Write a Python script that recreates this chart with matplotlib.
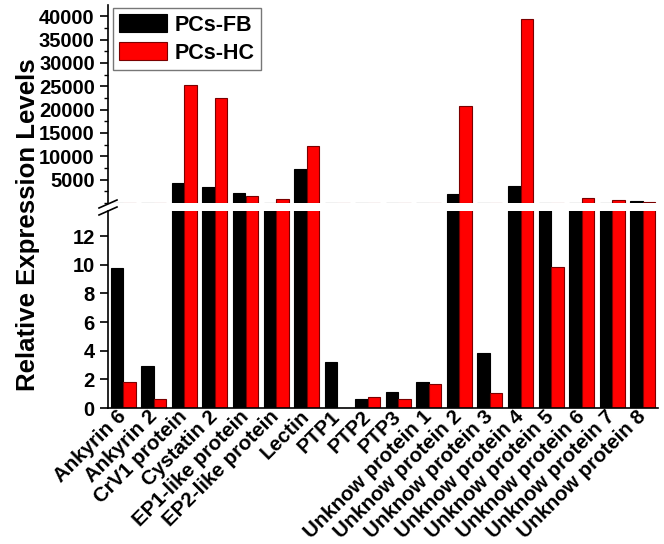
import matplotlib
matplotlib.use("Agg")
import matplotlib.pyplot as plt
from matplotlib.lines import Line2D
from matplotlib.ticker import MultipleLocator
import numpy as np

plt.rcParams['font.family'] = ['Liberation Sans', 'DejaVu Sans']
plt.rcParams['font.weight'] = 'bold'

# data
genes = ["Ankyrin 6", "Ankyrin 2", "CrV1 protein", "Cystatin 2", "EP1-like protein",
         "EP2-like protein", "Lectin", "PTP1", "PTP2", "PTP3",
         "Unknow protein 1", "Unknow protein 2", "Unknow protein 3", "Unknow protein 4",
         "Unknow protein 5", "Unknow protein 6", "Unknow protein 7", "Unknow protein 8"]
fb = [9.75, 2.95, 4300, 3450, 2150, 90, 7200, 3.2, 0.63, 1.14,
      1.8, 1900, 3.85, 3550, 80, 80, 80, 420]
hc = [1.8, 0.6, 25200, 22500, 1550, 820, 12100, 0.02, 0.75, 0.6,
      1.68, 20700, 1.02, 39400, 9.85, 1040, 540, 300]

W, H = 664, 544
fig = plt.figure(figsize=(W / 100, H / 100), dpi=100)

def px_axes(x0, x1, y_top, y_bot):
    return fig.add_axes([x0 / W, 1 - y_bot / H, (x1 - x0) / W, (y_bot - y_top) / H])

ax_top = px_axes(108, 658, 5, 203)
ax_bot = px_axes(108, 658, 211, 408)

x = np.arange(len(genes))
bw = 0.41
for ax in (ax_top, ax_bot):
    ax.bar(x - bw / 2, fb, bw, color="black", edgecolor="black", linewidth=0.8, label="PCs-FB")
    ax.bar(x + bw / 2, hc, bw, color="#ff0000", edgecolor="#7a0000", linewidth=0.8, label="PCs-HC")
    ax.set_xlim(-0.5, 17.5)
    ax.spines['top'].set_visible(False)
    ax.spines['right'].set_visible(False)
    ax.spines['left'].set_linewidth(1.2)
    ax.tick_params(axis='y', direction='out', length=6, width=1.2, labelsize=14.5)

ax_top.set_ylim(0, 42400)
ax_top.set_yticks(range(5000, 40001, 5000))
ax_top.yaxis.set_minor_locator(MultipleLocator(2500))
ax_top.tick_params(axis='y', which='minor', length=3, width=1)
ax_top.spines['bottom'].set_visible(False)
ax_top.set_xticks([])

ax_bot.set_ylim(0, 13.75)
ax_bot.set_yticks(range(0, 13, 2))
ax_bot.spines['bottom'].set_linewidth(1.2)
ax_bot.set_xticks(x)
ax_bot.set_xticklabels(genes, rotation=45, ha='right', va='center',
                       rotation_mode='anchor', fontsize=14.8, fontweight='bold')
ax_bot.tick_params(axis='x', length=0, pad=4)

for lbl in ax_top.get_yticklabels() + ax_bot.get_yticklabels():
    lbl.set_fontweight('bold')

# axis break marks
for y0 in (208, 215):
    fig.add_artist(Line2D([99 / W, 117 / W], [1 - y0 / H, 1 - (y0 - 8) / H],
                          color="black", linewidth=1.2))

leg = ax_top.legend(loc='upper left', bbox_to_anchor=(113 / W, 1 - 8 / H),
                    bbox_transform=fig.transFigure, fontsize=15.5, frameon=True,
                    fancybox=False, edgecolor="#555555", handlelength=2.2,
                    handleheight=0.9, borderpad=0.3, labelspacing=0.3,
                    handletextpad=0.35, borderaxespad=0)
for t in leg.get_texts():
    t.set_fontweight('bold')

fig.text(28 / W, 1 - 225 / H, "Relative Expression Levels", rotation=90,
         ha='center', va='center', fontsize=18.5, fontweight='bold')

fig.savefig("out.png", dpi=100, facecolor="white")
